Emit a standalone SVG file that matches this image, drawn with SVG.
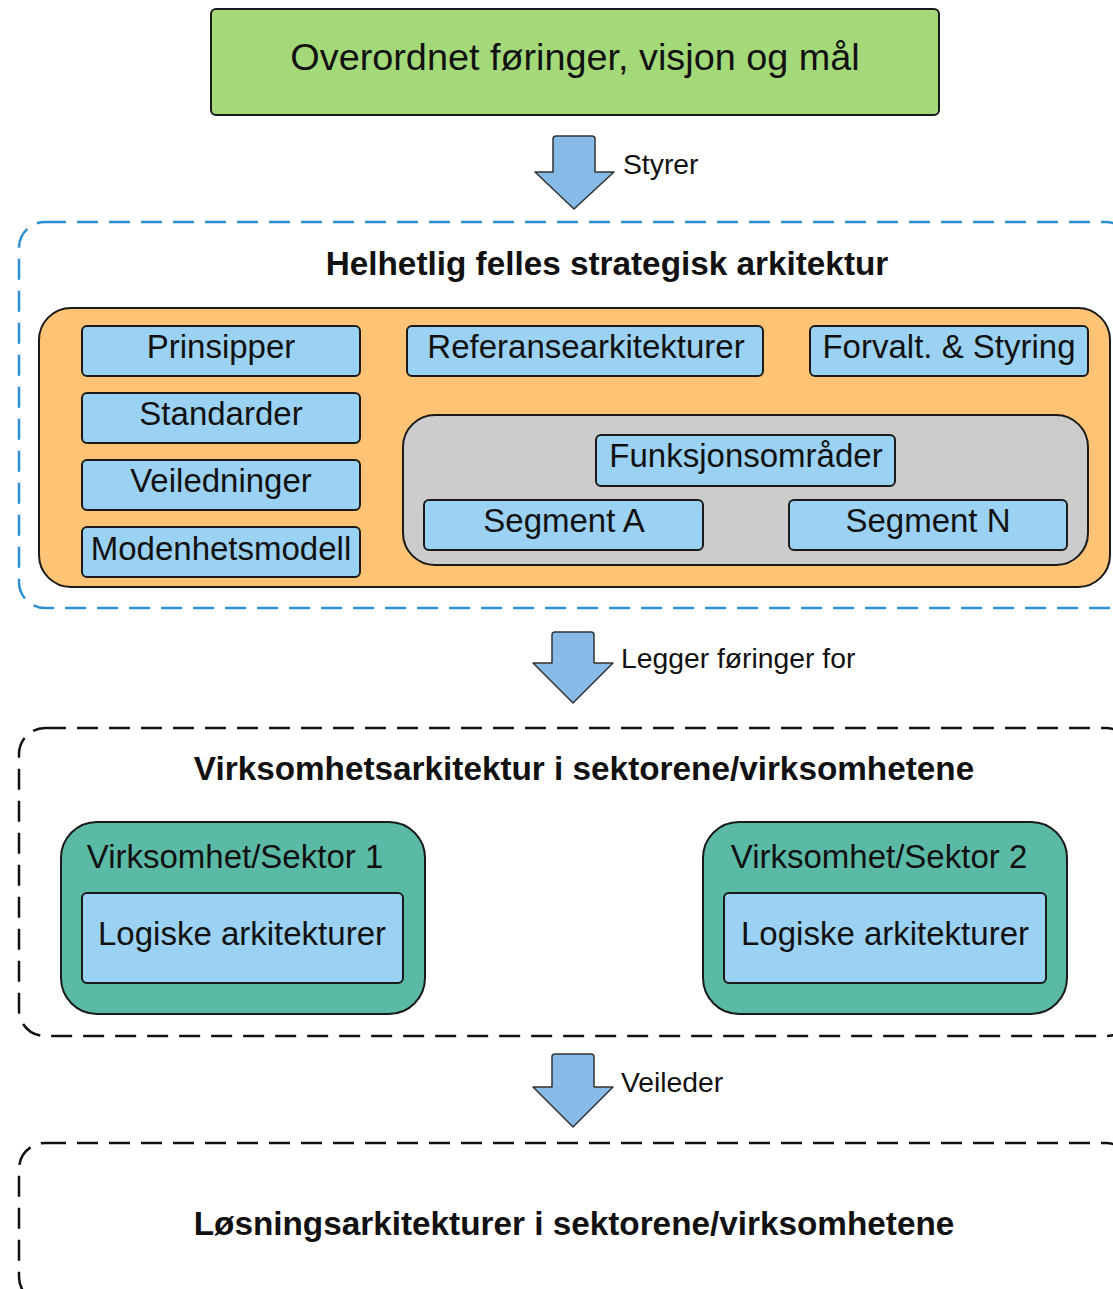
<svg xmlns="http://www.w3.org/2000/svg" width="1113" height="1289" viewBox="0 0 1113 1289">
<style>
text{font-family:"Liberation Sans",Arial,sans-serif;fill:#111}
.box{stroke:#1a1a1a;stroke-width:2}
.blue{fill:#9bd2f3}
.t33{font-size:33px;text-anchor:middle}
.title{font-size:33.3px;font-weight:bold;text-anchor:middle}
.lbl{font-size:28.3px}
.arrow{fill:#85bbe6;stroke:#333;stroke-width:1.5;stroke-linejoin:round}
.dash{fill:none;stroke-width:2.5;stroke-dasharray:21 11}
</style>
<rect width="1113" height="1289" fill="#fff"/>

<g id="containers">
<rect id="strategisk" class="dash" x="19" y="222" width="1113" height="386" rx="26" stroke="#2e8fd1"/>
<rect id="virksomhet" class="dash" x="19" y="728" width="1113" height="308" rx="26" stroke="#111"/>
<rect id="losning" class="dash" x="19" y="1143" width="1113" height="160" rx="26" stroke="#111"/>
</g>

<g id="overordnet">
<rect class="box" x="211" y="9" width="728" height="106" rx="5" fill="#a3d978"/>
<text x="575" y="70" style="font-size:37.8px;text-anchor:middle">Overordnet føringer, visjon og mål</text>
</g>

<g id="connectors">
<path class="arrow" d="M556,136 H592 Q595,136 595,139 V172 H614 L574,209 L535,172 H553 V139 Q553,136 556,136 Z"/>
<text class="lbl" x="623" y="174">Styrer</text>
<path class="arrow" d="M555,632 H591 Q594,632 594,635 V663 H613 L573,703 L533,663 H552 V635 Q552,632 555,632 Z"/>
<text class="lbl" x="621" y="668">Legger føringer for</text>
<path class="arrow" d="M555,1054 H591 Q594,1054 594,1057 V1087 H613 L573,1127 L533,1087 H552 V1057 Q552,1054 555,1054 Z"/>
<text class="lbl" x="621" y="1092">Veileder</text>
</g>

<g id="helhetlig-title">
<text class="title" x="607" y="275">Helhetlig felles strategisk arkitektur</text>
</g>

<g id="orange">
<rect class="box" x="39" y="308" width="1071" height="279" rx="32" fill="#fec374"/>
</g>

<g id="prinsipper"><rect class="box blue" x="82" y="326" width="278" height="50" rx="5"/><text class="t33" x="221" y="358">Prinsipper</text></g>
<g id="standarder"><rect class="box blue" x="82" y="393" width="278" height="50" rx="5"/><text class="t33" x="221" y="425">Standarder</text></g>
<g id="veiledninger"><rect class="box blue" x="82" y="460" width="278" height="50" rx="5"/><text class="t33" x="221" y="492">Veiledninger</text></g>
<g id="modenhetsmodell"><rect class="box blue" x="82" y="527" width="278" height="50" rx="5"/><text class="t33" x="221" y="560">Modenhetsmodell</text></g>
<g id="referanse"><rect class="box blue" x="407" y="326" width="356" height="50" rx="5"/><text class="t33" x="586" y="358">Referansearkitekturer</text></g>
<g id="forvalt"><rect class="box blue" x="810" y="326" width="278" height="50" rx="5"/><text class="t33" x="949" y="358">Forvalt. &amp; Styring</text></g>

<g id="gray">
<rect class="box" x="403" y="415" width="685" height="150" rx="32" fill="#cccccc"/>
</g>
<g id="funksjon"><rect class="box blue" x="596" y="435" width="299" height="51" rx="5"/><text class="t33" x="746" y="467">Funksjonsområder</text></g>
<g id="segmentA"><rect class="box blue" x="424" y="500" width="279" height="50" rx="5"/><text class="t33" x="564" y="532">Segment A</text></g>
<g id="segmentN"><rect class="box blue" x="789" y="500" width="278" height="50" rx="5"/><text class="t33" x="928" y="532">Segment N</text></g>

<g id="virksomhet-title">
<text class="title" x="584" y="780">Virksomhetsarkitektur i sektorene/virksomhetene</text>
</g>

<g id="sektor1">
<rect class="box" x="61" y="822" width="364" height="192" rx="36" fill="#5bbaa6"/>
<text class="t33" x="235" y="868">Virksomhet/Sektor 1</text>
<rect class="box blue" x="82" y="893" width="321" height="90" rx="5"/>
<text class="t33" x="242" y="945">Logiske arkitekturer</text>
</g>
<g id="sektor2">
<rect class="box" x="703" y="822" width="364" height="192" rx="36" fill="#5bbaa6"/>
<text class="t33" x="879" y="868">Virksomhet/Sektor 2</text>
<rect class="box blue" x="724" y="893" width="322" height="90" rx="5"/>
<text class="t33" x="885" y="945">Logiske arkitekturer</text>
</g>

<g id="losning-title">
<text class="title" x="574" y="1235">Løsningsarkitekturer i sektorene/virksomhetene</text>
</g>
</svg>
